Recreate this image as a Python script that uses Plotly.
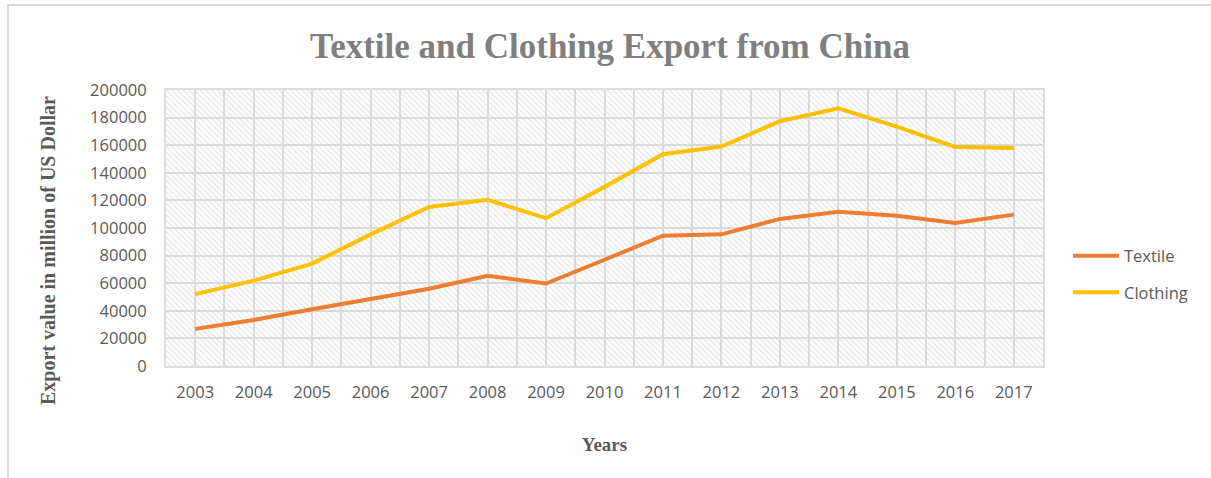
import plotly.graph_objects as go

years = ["2003", "2004", "2005", "2006", "2007", "2008", "2009", "2010",
         "2011", "2012", "2013", "2014", "2015", "2016", "2017"]
textile = [26900, 33400, 41100, 48700, 56000, 65400, 59800, 77000,
           94400, 95400, 106600, 111700, 108800, 103600, 109700]
clothing = [52100, 61900, 74200, 95400, 115200, 120400, 107100, 129800,
            153500, 159000, 177400, 186800, 173500, 158700, 158000]
y_ticks = [0, 20000, 40000, 60000, 80000, 100000, 120000, 140000, 160000, 180000, 200000]

idx = list(range(len(years)))
GRID = "#dcdcdc"
TXT = "#595959"
TICKFONT = dict(family="Open Sans", size=16.5, color=TXT)
SERIF = "Liberation Serif"

W, H = 1211, 478
L, R, T, B = 166, 168, 90, 112
pw, ph = W - L - R, H - T - B

fig = go.Figure()

# hatched plot-area background
fig.add_trace(go.Bar(
    x=idx, y=[max(y_ticks)] * len(idx), width=1,
    marker=dict(color="rgba(0,0,0,0)", line=dict(width=0),
                pattern=dict(shape="\\", fgcolor="#cccccc", bgcolor="rgba(0,0,0,0)",
                             size=4, solidity=0.3)),
    hoverinfo="skip", showlegend=False))

fig.add_trace(go.Scatter(x=idx, y=textile, mode="lines", name="Textile",
                         legendgroup="a",
                         line=dict(color="#ED7D31", width=4)))
fig.add_trace(go.Scatter(x=idx, y=clothing, mode="lines", name="Clothing",
                         legendgroup="b",
                         line=dict(color="#FFC000", width=4)))

fig.update_layout(
    width=W, height=H,
    margin=dict(l=L, r=R, t=T, b=B),
    paper_bgcolor="white", plot_bgcolor="white",
    bargap=0,
    title=dict(text="<b>Textile and Clothing Export from China</b>",
               font=dict(family=SERIF, size=35, color="#7f7f7f"),
               x=610 / W, xanchor="center", xref="container",
               y=1 - 46 / H, yanchor="middle", yref="container"),
    legend=dict(x=(1068 - L) / pw, xanchor="left",
                y=(H - B - 274) / ph, yanchor="middle", itemwidth=46,
                font=TICKFONT, tracegroupgap=12, bgcolor="rgba(0,0,0,0)"),
    xaxis=dict(range=[-0.5, len(years) - 0.5], tickmode="array",
               tickvals=idx, ticktext=years, tickfont=TICKFONT,
               showgrid=True, gridcolor=GRID, gridwidth=2,
               minor=dict(tickmode="array", tickvals=[i - 0.5 for i in range(len(years) + 1)],
                          showgrid=True, gridcolor=GRID, gridwidth=2, ticks=""),
               showline=True, mirror=True, linecolor=GRID, linewidth=2,
               zeroline=False, ticks="", ticklabelstandoff=10,
               title=dict(text="<b>Years</b>", font=dict(family=SERIF, size=19, color=TXT),
                          standoff=36)),
    yaxis=dict(range=[0, max(y_ticks)], tickmode="array", tickvals=y_ticks,
               tickformat="d", tickfont=TICKFONT,
               showgrid=True, gridcolor=GRID, gridwidth=2,
               showline=True, mirror=True, linecolor=GRID, linewidth=2,
               zeroline=False, ticks="", ticklabelstandoff=14),
    annotations=[dict(text="<b>Export value in million of US Dollar</b>",
                      font=dict(family=SERIF, size=20, color=TXT),
                      textangle=-90, showarrow=False,
                      xref="paper", yref="paper",
                      x=(48 - L) / pw, y=(H - B - 250) / ph,
                      xanchor="center", yanchor="middle")],
    shapes=[dict(type="rect", xref="paper", yref="paper",
                 x0=(8 - L) / pw, x1=(W + 5 - L) / pw,
                 y0=-(H + 5 - (H - B)) / ph, y1=1 + (T - 5) / ph,
                 line=dict(color="#d9d9d9", width=2), fillcolor="rgba(0,0,0,0)",
                 layer="below")],
)

fig.write_html("out.html")
